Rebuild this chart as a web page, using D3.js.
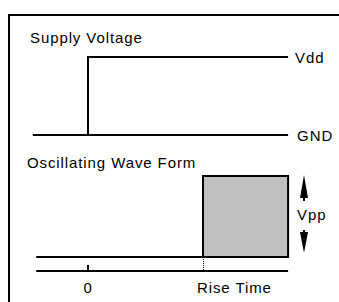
<!DOCTYPE html>
<meta charset="utf-8">
<script src="https://d3js.org/d3.v7.min.js"></script>
<style>
    body { margin: 0; background: #fff; }
    text { font-family: "Liberation Sans", Arial, sans-serif; font-size: 15px; letter-spacing: 0.9px; fill: #000; }
</style>
<div id="waveform"></div>

<script>
    // time axis: 0 = power on, 1 = rise time
    const timeTicks = [0, 1];
    const timeLabels = ["0", "Rise Time"];
    const timeStart = -0.48, timeEnd = 1.74;

    // supply voltage step (time, level)
    const supplyTimes = [timeStart, 0, 0, timeEnd];
    const supplyLevels = [0, 0, 1, 1];
    const supplyLabels = ["GND", "Vdd"];

    // oscillating wave form: flat until rise time, then full swing
    const waveTimes = [-0.45, 1];
    const waveLevels = [0, 0];
    const burstTimes = [1, timeEnd];
    const burstLevels = [0, 1];
    const panelTitles = ["Supply Voltage", "Oscillating Wave Form"];

    const width = 339, height = 302;

    const svg = d3.select("#waveform")
        .append("svg")
        .attr("width", width)
        .attr("height", height);

    const x = d3.scaleLinear().domain([0, 1]).range([88, 203]);
    const ySupply = d3.scaleLinear().domain([0, 1]).range([135, 57]);
    const yWave = d3.scaleLinear().domain([0, 1]).range([257, 176]);

    // frame (top and left edges only)
    svg.append("path")
        .attr("d", `M9,${height} V15 H${width}`)
        .attr("fill", "none")
        .attr("stroke", "#000")
        .attr("stroke-width", 2);

    // titles
    svg.append("text").attr("x", 30).attr("y", 43).text(panelTitles[0]);
    svg.append("text").attr("x", 27).attr("y", 168).text(panelTitles[1]);

    // supply voltage
    const supplyLine = d3.line()
        .x(d => x(d[0]))
        .y(d => ySupply(d[1]));
    const supplyPts = supplyTimes.map((t, i) => [t, supplyLevels[i]]);
    svg.append("path")
        .attr("d", supplyLine(supplyPts.slice(1)))
        .attr("fill", "none")
        .attr("stroke", "#000")
        .attr("stroke-width", 2);
    // GND rail across the full width
    svg.append("line")
        .attr("x1", x(timeStart)).attr("x2", x(timeEnd))
        .attr("y1", ySupply(0)).attr("y2", ySupply(0))
        .attr("stroke", "#000")
        .attr("stroke-width", 2);

    svg.selectAll(".supplyLabel")
        .data(supplyLabels)
        .join("text")
        .attr("class", "supplyLabel")
        .attr("x", (d, i) => x(timeEnd) + (i === 0 ? 9 : 7))
        .attr("y", (d, i) => ySupply(i) + 6)
        .text(d => d);

    // wave form: flat part
    svg.append("line")
        .attr("x1", x(waveTimes[0])).attr("x2", x(waveTimes[1]))
        .attr("y1", yWave(waveLevels[0])).attr("y2", yWave(waveLevels[1]))
        .attr("stroke", "#000")
        .attr("stroke-width", 2);

    // burst (drawn as filled envelope)
    svg.append("rect")
        .attr("x", x(burstTimes[0]))
        .attr("y", yWave(burstLevels[1]))
        .attr("width", x(burstTimes[1]) - x(burstTimes[0]))
        .attr("height", yWave(burstLevels[0]) - yWave(burstLevels[1]))
        .attr("fill", "#c0c0c0")
        .attr("stroke", "#000")
        .attr("stroke-width", 2);

    // time axis
    const axisY = 271;
    svg.append("line")
        .attr("x1", x(waveTimes[0])).attr("x2", x(timeEnd))
        .attr("y1", axisY).attr("y2", axisY)
        .attr("stroke", "#000")
        .attr("stroke-width", 2);

    svg.append("line")
        .attr("x1", x(timeTicks[0])).attr("x2", x(timeTicks[0]))
        .attr("y1", axisY - 6).attr("y2", axisY)
        .attr("stroke", "#000")
        .attr("stroke-width", 2);

    svg.append("line")
        .attr("x1", x(timeTicks[1]) + 0.5).attr("x2", x(timeTicks[1]) + 0.5)
        .attr("y1", yWave(0)).attr("y2", axisY)
        .attr("stroke", "#000")
        .attr("stroke-width", 1)
        .attr("stroke-dasharray", "1,1");

    svg.selectAll(".timeLabel")
        .data(timeTicks)
        .join("text")
        .attr("class", "timeLabel")
        .attr("x", d => d === 0 ? x(d) : x(d) - 6)
        .attr("y", 293)
        .attr("text-anchor", d => d === 0 ? "middle" : "start")
        .text((d, i) => timeLabels[i]);

    // Vpp arrows
    const ax = 304;
    const yTop = yWave(1), yBot = yWave(0);
    svg.append("line")
        .attr("x1", ax).attr("x2", ax)
        .attr("y1", yTop + 10).attr("y2", yTop + 25)
        .attr("stroke", "#000").attr("stroke-width", 2);
    svg.append("path")
        .attr("d", `M${ax},${yTop - 1} L${ax - 4},${yTop + 22} L${ax + 4},${yTop + 22} Z`)
        .attr("fill", "#000");
    svg.append("line")
        .attr("x1", ax).attr("x2", ax)
        .attr("y1", yBot - 27).attr("y2", yBot - 10)
        .attr("stroke", "#000").attr("stroke-width", 2);
    svg.append("path")
        .attr("d", `M${ax},${yBot - 4} L${ax - 4},${yBot - 25} L${ax + 4},${yBot - 25} Z`)
        .attr("fill", "#000");
    svg.append("text")
        .attr("x", 297)
        .attr("y", 220)
        .text("Vpp");
</script>
